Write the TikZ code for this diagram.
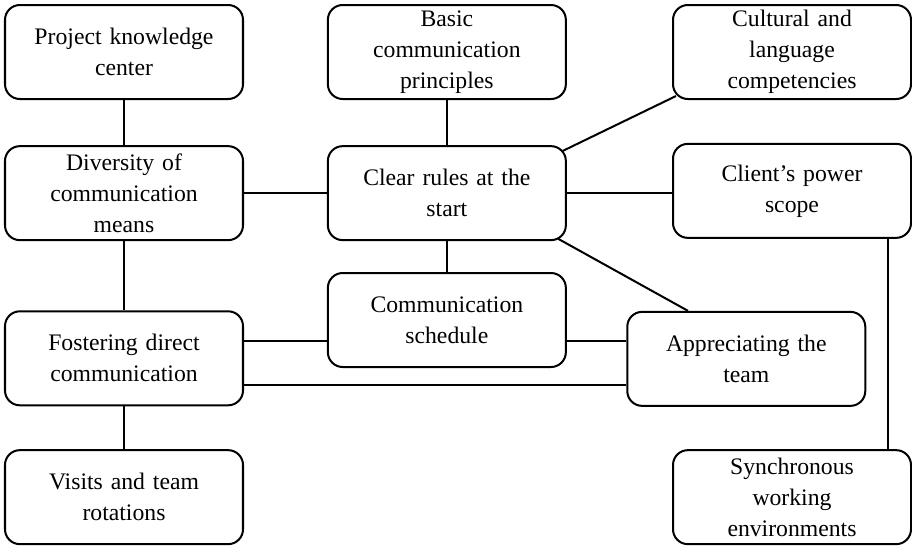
\documentclass[tikz,border=0pt]{standalone}
\usepackage{fontspec}
\setmainfont{Liberation Serif}
\usetikzlibrary{calc}

\begin{document}
\begin{tikzpicture}[line width=1pt,
  caja/.style={draw, rounded corners=0.26cm, minimum width=4.165cm,
    minimum height=1.645cm, text width=3.9cm, align=center, inner sep=0pt,
    font=\fontsize{11.8}{15.5}\selectfont}]
\useasboundingbox (0,0) rectangle (15.96,-9.57);

% Fila 1
\node[caja] (PK) at (2.17,-0.91) {Project knowledge\\center};
\node[caja] (BC) at (7.82,-0.91) {Basic\\communication\\principles};
\node[caja] (CL) at (13.86,-0.91) {Cultural and\\language\\competencies};

% Fila 2
\node[caja] (DC) at (2.17,-3.38) {Diversity of\\communication\\means};
\node[caja] (CR) at (7.82,-3.38) {Clear rules at the\\start};
\node[caja] (CP) at (13.86,-3.34) {Client’s power\\scope};

% Fila 3
\node[caja] (CS) at (7.82,-5.60) {Communication\\schedule};
\node[caja] (FD) at (2.17,-6.27) {Fostering direct\\communication};
\node[caja] (AT) at (13.06,-6.28) {Appreciating the\\team};

% Fila 4
\node[caja] (VT) at (2.17,-8.70) {Visits and team\\rotations};
\node[caja] (SW) at (13.86,-8.70) {Synchronous\\working\\environments};

% Conexiones
\draw (PK.south) -- (DC.north);
\draw (BC.south) -- (CR.north);
\draw (DC.east) -- (CR.west);
\draw (CR.east) -- (CR.east -| CP.west);
\draw ($(CR.north east)+(-0.07,-0.1)$) -- ($(CL.south west)+(0.07,0.07)$);
\draw (CR.south) -- (CS.north);
\draw ($(CR.south east)+(-0.15,0.04)$) -- ($(AT.north west)+(1.08,0)$);
\draw (DC.south) -- (FD.north);
\draw (FD.south) -- (VT.north);
\draw (FD.east) ++(0,0.3) coordinate (f1) -- (f1 -| CS.west);
\draw (CS.east |- f1) -- (f1 -| AT.west);
\draw (FD.east) ++(0,-0.47) coordinate (f2) -- (f2 -| AT.west);
\draw (CP.south) ++(1.68,0) coordinate (c1) -- (c1 |- SW.north);

\end{tikzpicture}
\end{document}
